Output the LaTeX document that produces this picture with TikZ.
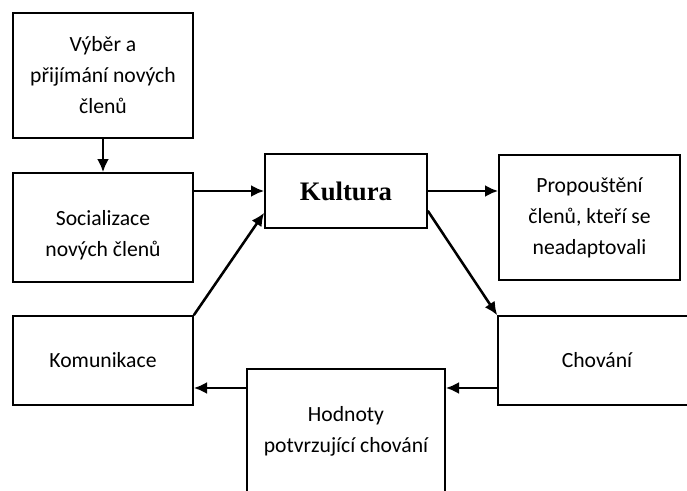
\documentclass[tikz,border=0pt]{standalone}
\usepackage{fontspec}
\setmainfont{Carlito}
\newfontfamily\kulturafont{Liberation Serif}
\usetikzlibrary{arrows.meta}
\tikzset{box/.style={draw, line width=1.1pt, align=center, inner sep=2pt, font=\fontsize{15.4}{22}\selectfont},
  link/.style={-{Latex[length=0.33cm,width=0.3cm]}, line width=1.8pt}}

\begin{document}
\begin{tikzpicture}[x=0.025cm,y=-0.025cm]
   \useasboundingbox[fill=white] (0,0) rectangle (687,491);
   \node[box, minimum width=4.5cm, minimum height=3.125cm] (vyber) at (103,75.5) {Výběr a\\přijímání nových\\členů};
   \node[box, minimum width=4.5cm, minimum height=2.725cm] (social) at (103,227.5) {\rule{0pt}{0.75cm}Socializace\\nových členů};
   \node[box, minimum width=4.05cm, minimum height=1.85cm, font=\kulturafont\bfseries\fontsize{19}{22}\selectfont] (kultura) at (346,191) {Kultura};
   \node[box, minimum width=4.525cm, minimum height=3.125cm] (propou) at (589.5,217.5) {Propouštění\\členů, kteří se\\neadaptovali};
   \node[box, minimum width=4.95cm, minimum height=2.225cm] (chovani) at (597,360.5) {Chování};
   \node[box, minimum width=4.5cm, minimum height=2.225cm] (komun) at (103,360.5) {Komunikace};
   \node[box, minimum width=4.95cm, minimum height=3.1cm] (hodnoty) at (346,431) {Hodnoty\\potvrzující chování};
   \coordinate (lowrow) at (0,388);
   % arrows
   \draw[link] (vyber) -- (social);
   \draw[link] (social.east |- kultura.west) -- (kultura.west);
   \draw[link] (kultura.east) -- (kultura.east -| propou.west);
   \draw[link] ([yshift=0.45cm]kultura.south east) -- (chovani.north west);
   \draw[link] (chovani.west |- lowrow) -- (hodnoty.east |- lowrow);
   \draw[link] (hodnoty.west |- lowrow) -- (komun.east |- lowrow);
   \draw[link] (komun.north east) -- ([yshift=0.4cm]kultura.south west);
  \end{tikzpicture}
\end{document}
